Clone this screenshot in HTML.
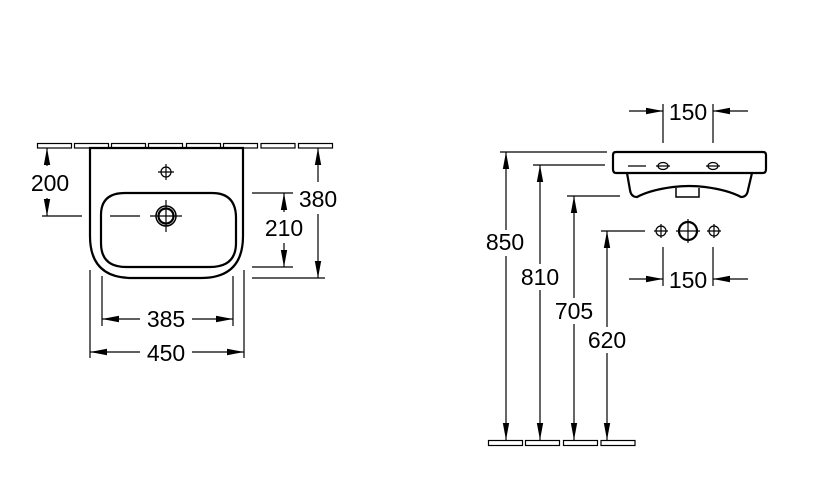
<!DOCTYPE html>
<html><head><style>
html,body{margin:0;padding:0;background:#fff;width:824px;height:490px;overflow:hidden}
text{font-family:"Liberation Sans",Arial,sans-serif;font-size:23px;fill:#000;text-anchor:middle}
</style></head><body>
<svg width="824" height="490" viewBox="0 0 824 490" xmlns="http://www.w3.org/2000/svg">
<defs>
<marker id="a" markerWidth="17" markerHeight="8" refX="17" refY="4" markerUnits="userSpaceOnUse" orient="auto"><path d="M0,0.8L17,4L0,7.2z" fill="#000"/></marker>
</defs>
<g fill="none" stroke="#000" stroke-width="1.2">
<rect x="37.5" y="143.5" width="34" height="4.5"/><rect x="74.5" y="143.5" width="34" height="4.5"/><rect x="111.5" y="143.5" width="34" height="4.5"/><rect x="148.5" y="143.5" width="34" height="4.5"/><rect x="186.5" y="143.5" width="34" height="4.5"/><rect x="223.5" y="143.5" width="34" height="4.5"/><rect x="261" y="143.5" width="34" height="4.5"/><rect x="298.5" y="143.5" width="34" height="4.5"/>
<path d="M90,148 V236 Q90,278 132,278 H201 Q243,278 243,236 V148 Z" stroke-width="2.2"/>
<path d="M101,215 Q101,193 125,193 H212 Q236,193 236,218 V243 Q236,267 210,267 H126 Q101,267 101,243 Z" stroke-width="2.2"/>
<circle cx="166" cy="172" r="5"/><path d="M158,172H174M166,164V180"/>
<circle cx="166" cy="216" r="10" stroke-width="1.5"/><circle cx="166" cy="216" r="7.5" stroke-width="2.2"/>
<path d="M150,216H182M166,200V232M110,216H140"/>
<path d="M42,216H82"/>
<line x1="47" y1="166" x2="47" y2="148" marker-end="url(#a)"/><line x1="47" y1="198" x2="47" y2="216" marker-end="url(#a)"/>
<path d="M252,193H293M252,267H293M252,278H325"/>
<line x1="284" y1="212" x2="284" y2="193" marker-end="url(#a)"/><line x1="284" y1="243" x2="284" y2="267" marker-end="url(#a)"/>
<line x1="318" y1="182" x2="318" y2="148" marker-end="url(#a)"/><line x1="318" y1="214" x2="318" y2="278" marker-end="url(#a)"/>
<path d="M102,276V326M233,276V326M90,270V358M244,270V358"/>
<line x1="140" y1="319" x2="102" y2="319" marker-end="url(#a)"/><line x1="192" y1="319" x2="233" y2="319" marker-end="url(#a)"/>
<line x1="140" y1="352" x2="90" y2="352" marker-end="url(#a)"/><line x1="192" y1="352" x2="244" y2="352" marker-end="url(#a)"/>
<path d="M616,152H763Q766,152 766,155V169Q766,173 763,173H616Q613,173 613,169V155Q613,152 616,152Z" stroke-width="2.2"/>
<path d="M627,173L630,190Q631,197 637,197Q650,190 673,187Q690,185 705,187Q728,190 741,197Q747,197 748,190L752,173" stroke-width="2.2"/>
<path d="M676,188V197H699V188" stroke-width="1.5"/>
<ellipse cx="663" cy="166" rx="5" ry="3.5"/><ellipse cx="713" cy="166" rx="5" ry="3.5"/>
<path d="M656,166H670M706,166H720M628,166H646"/>
<path d="M663,104V143M713,104V143"/>
<line x1="629" y1="111" x2="663" y2="111" marker-end="url(#a)"/><line x1="748" y1="111" x2="713" y2="111" marker-end="url(#a)"/>
<circle cx="661" cy="231" r="5"/><path d="M654,231H668M661,224V238"/>
<circle cx="688" cy="231" r="9" stroke-width="2.2"/><path d="M676,231H700M688,219V243"/>
<circle cx="714" cy="231" r="5"/><path d="M707,231H721M714,224V238"/>
<path d="M663,247V286M713,247V286"/>
<line x1="629" y1="279" x2="663" y2="279" marker-end="url(#a)"/><line x1="748" y1="279" x2="713" y2="279" marker-end="url(#a)"/>
<path d="M500,152H607M533,165H605M567,196H620M601,231H645"/>
<line x1="506" y1="230" x2="506" y2="152" marker-end="url(#a)"/><line x1="506" y1="256" x2="506" y2="440" marker-end="url(#a)"/>
<line x1="540" y1="264" x2="540" y2="165" marker-end="url(#a)"/><line x1="540" y1="290" x2="540" y2="440" marker-end="url(#a)"/>
<line x1="574" y1="298" x2="574" y2="196" marker-end="url(#a)"/><line x1="574" y1="324" x2="574" y2="440" marker-end="url(#a)"/>
<line x1="607" y1="327" x2="607" y2="231" marker-end="url(#a)"/><line x1="607" y1="353" x2="607" y2="440" marker-end="url(#a)"/>
<rect x="488.5" y="440.5" width="34" height="5"/><rect x="525.5" y="440.5" width="34" height="5"/><rect x="563.5" y="440.5" width="34" height="5"/><rect x="601" y="440.5" width="34" height="5"/>
</g>
<text x="50" y="191">200</text>
<text x="318" y="207">380</text>
<text x="284" y="236">210</text>
<text x="166" y="327">385</text>
<text x="166" y="361">450</text>
<text x="688" y="120">150</text>
<text x="688" y="288">150</text>
<text x="505" y="250">850</text>
<text x="540" y="285">810</text>
<text x="574" y="319">705</text>
<text x="607" y="348">620</text>
</svg>
</body></html>
